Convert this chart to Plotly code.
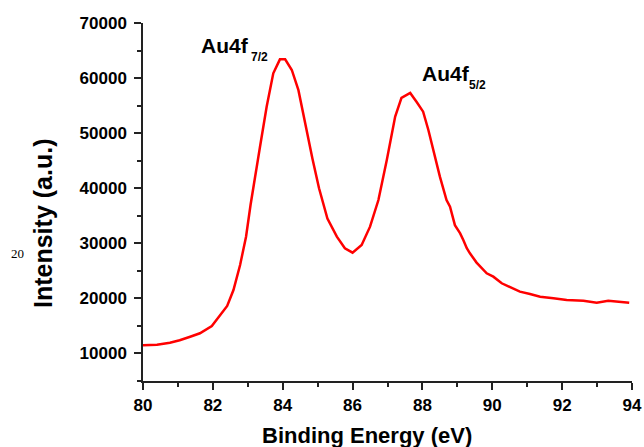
import plotly.graph_objects as go

energy = [80.00, 80.40, 80.77, 81.05, 81.35, 81.63, 81.97, 82.20, 82.41, 82.59,
          82.78, 82.95, 83.08, 83.35, 83.54, 83.73, 83.92, 84.07, 84.26, 84.45,
          84.66, 84.85, 85.04, 85.28, 85.55, 85.78, 86.00, 86.26, 86.50, 86.74,
          86.98, 87.22, 87.40, 87.65, 87.84, 88.02, 88.17, 88.31, 88.50, 88.69,
          88.79, 88.93, 89.08, 89.17, 89.27, 89.36, 89.55, 89.84, 90.03, 90.27,
          90.51, 90.79, 91.08, 91.37, 91.75, 92.13, 92.61, 92.99, 93.32, 93.56,
          93.92]
intensity = [11500, 11600, 11950, 12400, 13040, 13660, 14990, 17000, 18620, 21520,
             26060, 31200, 37000, 47540, 54800, 60870, 63400, 63400, 61470, 57800,
             51200, 45400, 40000, 34500, 31200, 29100, 28300, 29700, 33020, 37860,
             45130, 53000, 56400, 57300, 55600, 53900, 50570, 46940, 42100, 37860,
             36650, 33300, 31800, 30600, 29100, 28180, 26500, 24560, 23940, 22740,
             22020, 21220, 20800, 20310, 20010, 19710, 19580, 19220, 19580, 19470,
             19220]

x_ticks = [80, 82, 84, 86, 88, 90, 92, 94]
y_ticks = [10000, 20000, 30000, 40000, 50000, 60000, 70000]

FONT = "Arial, Liberation Sans, sans-serif"

fig = go.Figure()
fig.add_trace(go.Scatter(x=energy, y=intensity, mode="lines",
                         line=dict(color="#ff0000", width=2.5), showlegend=False,
                         hoverinfo="skip"))

axis_common = dict(showgrid=False, zeroline=False, showline=True, linecolor="#222222",
                   linewidth=1.5, ticks="outside", ticklen=7, tickwidth=1.5,
                   tickcolor="#222222", mirror=False,
                   tickfont=dict(family=FONT, size=17, color="black", weight="bold"))

fig.update_xaxes(range=[80, 94], tickvals=x_ticks, ticktext=[str(v) for v in x_ticks],
                 ticklabelstandoff=1, ticklabeloverflow="allow",
                 minor=dict(dtick=1, tick0=80, ticks="outside", ticklen=4,
                            tickcolor="#222222", tickwidth=1.5),
                 **axis_common)
fig.update_yaxes(range=[5000, 70000], tickvals=y_ticks, ticktext=[str(v) for v in y_ticks],
                 ticklabelstandoff=4,
                 minor=dict(dtick=5000, tick0=0, ticks="outside", ticklen=4,
                            tickcolor="#222222", tickwidth=1.5),
                 **axis_common)

# body margin is removed in the page, so plot area sits at x 143..632, y 23..381
W, H = 644, 447
ML, MR, MT, MB = 143, 644 - 632, 23, 447 - 381
PW, PH = 632 - 143, 381 - 23


def px_x(px):
    return (px - 143) / PW


def px_y(py):
    return (381 - py) / PH


bold = dict(family=FONT, color="black", weight="bold")
annos = [
    dict(text="Au4f", x=px_x(199), y=px_y(45), xanchor="left", yanchor="middle",
         font=dict(size=21, **bold)),
    dict(text="7/2", x=px_x(249), y=px_y(57.5), xanchor="left", yanchor="middle",
         font=dict(size=12, **bold)),
    dict(text="Au4f", x=px_x(419.5), y=px_y(73), xanchor="left", yanchor="middle",
         font=dict(size=21, **bold)),
    dict(text="5/2", x=px_x(467), y=px_y(85), xanchor="left", yanchor="middle",
         font=dict(size=12, **bold)),
    dict(text="Binding Energy (eV)", x=px_x(367), y=px_y(435), xanchor="center",
         yanchor="middle", font=dict(size=22, **bold)),
    dict(text="Intensity (a.u.)", x=px_x(43), y=px_y(224), xanchor="center",
         yanchor="middle", textangle=-90, font=dict(size=25, **bold)),
    dict(text="20", x=px_x(17), y=px_y(253.5), xanchor="center", yanchor="middle",
         font=dict(family="Liberation Serif, Times New Roman, serif", size=13,
                   color="black")),
]
for a in annos:
    fig.add_annotation(xref="paper", yref="paper", showarrow=False, **a)

fig.update_layout(width=W, height=H, margin=dict(l=ML, r=MR, t=MT, b=MB, autoexpand=False),
                  paper_bgcolor="white", plot_bgcolor="white", hovermode=False)

fig.write_html(
    "out.html",
    config={"displayModeBar": False},
    post_script="document.documentElement.style.overflow='hidden';"
                "document.body.style.overflow='hidden';"
                "document.body.style.margin='0';",
)
